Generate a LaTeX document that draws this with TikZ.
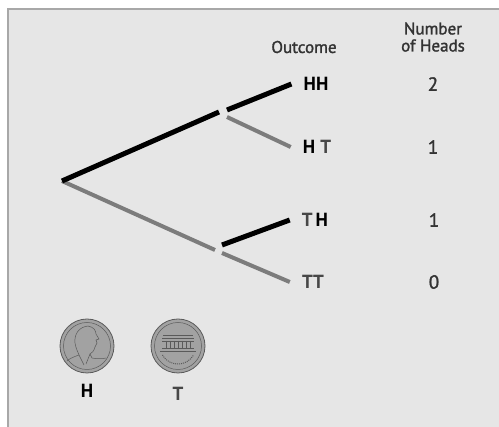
\documentclass[tikz,border=0pt]{standalone}
\usepackage{fontspec}
\setmainfont{PT Sans}
\newfontface\semibold[FakeBold=1.6]{PT Sans}
\usetikzlibrary{positioning}

\definecolor{panel}{HTML}{E6E6E6}
\definecolor{rim}{HTML}{A8A8A8}
\definecolor{tailgray}{HTML}{7C7C7C}
\definecolor{tgray}{HTML}{474747}
\definecolor{textgray}{HTML}{333333}
\definecolor{coinfill}{HTML}{A2A2A2}
\definecolor{coinline}{HTML}{5A5A5A}

\begin{document}
\begin{tikzpicture}[x=1pt,y=-1pt,
    heads/.style = {line width=5pt, black},
    tails/.style = {line width=4pt, tailgray},
    outcome/.style = {font=\fontsize{19}{20}\selectfont\bfseries, inner sep=0pt},
    num/.style = {font=\fontsize{19}{20}\semibold, text=textgray, inner sep=0pt},
    head/.style = {font=\fontsize{17}{17}\semibold, text=textgray, inner sep=0pt, align=center},
    coin/.style = {draw=coinline, fill=coinfill, circle, minimum size=54pt, line width=0.8pt}]
    \useasboundingbox (0,0) rectangle (499,427);
    \fill[panel] (8,9) rectangle (499,427);
    \draw[rim, line width=1.5pt] (8,427) -- (8,9) -- (499,9);

    % column heads
    \node[head] (oc) at (304,47) {Outcome};
    \node[head] (nh) at (433,37) {Number\\of Heads};

    % outcomes and head counts
    \node[outcome] (hh) at (316,84) {HH};
    \node[outcome] (ht) [below of=hh, node distance=63pt, xshift=1pt] {H\kern5pt\textcolor{tgray}{T}};
    \node[outcome] (th) [below of=ht, node distance=73pt, xshift=-2pt] {\textcolor{tgray}{T}\kern3pt H};
    \node[outcome] (tt) [below of=th, node distance=62pt, xshift=-2pt] {\textcolor{tgray}{TT}};
    \node[num] (n1) [right of=hh, node distance=117pt] {2};
    \node[num] (n2) [right of=ht, node distance=116pt] {1};
    \node[num] (n3) [right of=th, node distance=119pt] {1};
    \node[num] (n4) [right of=tt, node distance=121pt] {0};

    % branch points
    \coordinate (r) at (62,181);
    \coordinate (u) at (219,112);
    \coordinate (l) at (215,250);
    \coordinate (u1) at (227,110);
    \coordinate (u2) at (227,117);
    \coordinate (l1) at (222,245);
    \coordinate (l2) at (222,253);

    \draw[tails] (r) -- (l);
    \draw[heads] (r) -- (u);
    \draw[heads] (u1) -- ([xshift=-12pt]hh.west);
    \draw[tails] (u2) -- ([xshift=-12pt]ht.west);
    \draw[heads] (l1) -- ([xshift=-12pt]th.west);
    \draw[tails] (l2) -- ([xshift=-12pt]tt.west);

    % the two faces of the coin
    \node[coin] (ch) at (87,346) {};
    \node[coin] (ct) [right of=ch, node distance=91pt] {};
    \node[outcome] (lh) [below of=ch, node distance=45pt] {H};
    \node[outcome] (lt) [below of=ct, node distance=48pt] {\textcolor{tgray}{T}};

    \begin{scope}[shift={(ch.center)}, coinline, line width=0.5pt]
        \draw (0,0) circle (23.5);
        \draw (1,-20) .. controls (-8,-19) and (-13,-12) .. (-12,-3)
              .. controls (-11,3) and (-9,6) .. (-8,9)
              .. controls (-14,11) and (-18,13) .. (-20,15);
        \draw (1,-20) .. controls (7,-19) and (9,-15) .. (9,-12)
              -- (12,-7) -- (9,-6) -- (10,-3) -- (8,1)
              .. controls (7,5) and (5,7) .. (3,8)
              -- (5,12) .. controls (10,13) and (15,13) .. (19,12);
        \draw (-8,9) -- (-3,19) (3,8) -- (-1,18);
    \end{scope}
    \begin{scope}[shift={(ct.center)}, coinline, line width=0.5pt]
        \draw (0,0) circle (23.5);
        \draw (-15,-11) -- (15,-11) (-16,-8) -- (16,-8) (-16,-5) -- (16,-5);
        \foreach \c in {-12,-8,...,12}
            \draw (\c,-5) -- (\c,2);
        \draw (-16,2) -- (16,2) (-18,5) -- (18,5);
        \draw[densely dotted, line width=1pt] (150:18) arc (150:30:18);
    \end{scope}
\end{tikzpicture}
\end{document}
